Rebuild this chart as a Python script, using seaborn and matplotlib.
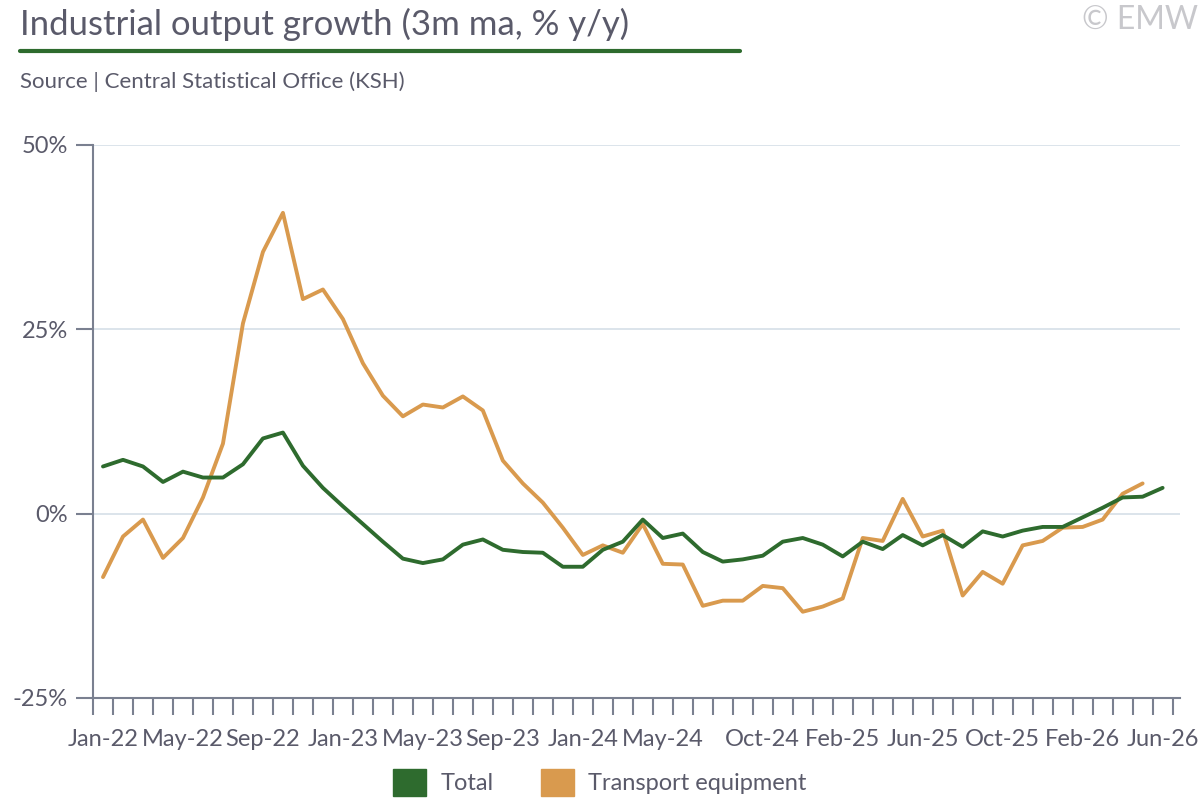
import matplotlib
matplotlib.use('Agg')
import matplotlib.pyplot as plt
import matplotlib.ticker as mticker
from matplotlib.patches import Patch
from matplotlib.lines import Line2D
import seaborn as sns
import pandas as pd

sns.set_theme(style="white")
plt.rcParams['font.family'] = ['Lato', 'DejaVu Sans']

tick_labels = ['Jan-22', 'May-22', 'Sep-22', 'Jan-23', 'May-23', 'Sep-23', 'Jan-24',
               'May-24', 'Oct-24', 'Feb-25', 'Jun-25', 'Oct-25', 'Feb-26', 'Jun-26']
tick_pos = [0, 4, 8, 12, 16, 20, 24, 28, 33, 37, 41, 45, 49, 53]

total = [6.4, 7.3, 6.4, 4.3, 5.7, 4.9, 4.9, 6.7, 10.2, 11.0, 6.5, 3.5, 1.0, -1.4,
         -3.8, -6.1, -6.7, -6.2, -4.2, -3.5, -4.9, -5.2, -5.3, -7.2, -7.2, -4.9,
         -3.8, -0.8, -3.3, -2.7, -5.2, -6.5, -6.2, -5.7, -3.8, -3.3, -4.2, -5.8,
         -3.8, -4.8, -2.9, -4.3, -2.9, -4.5, -2.4, -3.1, -2.3, -1.8, -1.8, -0.5,
         0.8, 2.2, 2.3, 3.5]
transport = [-8.6, -3.1, -0.8, -6.0, -3.3, 2.2, 9.5, 25.8, 35.5, 40.8, 29.1, 30.4,
             26.4, 20.4, 16.0, 13.2, 14.8, 14.4, 15.9, 14.0, 7.2, 4.1, 1.5, -1.9,
             -5.6, -4.3, -5.3, -1.4, -6.8, -6.9, -12.5, -11.8, -11.8, -9.8, -10.1,
             -13.3, -12.6, -11.5, -3.3, -3.7, 2.0, -3.1, -2.3, -11.1, -7.9, -9.5,
             -4.3, -3.7, -1.9, -1.8, -0.8, 2.7, 4.1]

GREEN = '#2e6b2e'
ORANGE = '#d99a4e'
GREY = '#5a5a6a'

df_t = pd.DataFrame({'m': range(len(total)), 'v': total})
df_o = pd.DataFrame({'m': range(len(transport)), 'v': transport})

fig = plt.figure(figsize=(12, 8), dpi=100)
ax = fig.add_axes([0.0775, 0.1275, 0.9055, 0.69125])
sns.lineplot(data=df_o, x='m', y='v', color=ORANGE, linewidth=2.8, ax=ax)
sns.lineplot(data=df_t, x='m', y='v', color=GREEN, linewidth=2.8, ax=ax)

ax.set_xlim(-0.5, 53.85)
ax.set_ylim(-25, 50)
ax.set_yticks([-25, 0, 25, 50])
ax.yaxis.set_major_formatter(mticker.FuncFormatter(lambda v, _: f"{int(v)}%"))
ax.grid(axis='y', color='#d5dfe8', linewidth=1.2)
ax.set_xticks(tick_pos)
ax.set_xticklabels(tick_labels)
ax.set_xticks([i + 0.5 for i in range(-1, 54)], minor=True)
ax.tick_params(axis='x', which='major', length=0, pad=22, labelsize=17, labelcolor=GREY)
ax.tick_params(axis='x', which='minor', length=12, width=1.5, color='#7a8090', bottom=True)
ax.tick_params(axis='y', length=12, width=1.5, color='#7a8090', left=True,
               labelsize=17, labelcolor=GREY, pad=6)
ax.set_xlabel('')
ax.set_ylabel('')
for s in ['top', 'right']:
    ax.spines[s].set_visible(False)
for s in ['left', 'bottom']:
    ax.spines[s].set_color('#7a8090')
    ax.spines[s].set_linewidth(1.5)

fig.text(0.017, 0.97, 'Industrial output growth (3m ma, % y/y)', fontsize=25,
         color=GREY, va='center')
fig.add_artist(Line2D([0.017, 0.617], [0.936, 0.936], color=GREEN, linewidth=3))
fig.text(0.017, 0.898, 'Source | Central Statistical Office (KSH)', fontsize=16,
         color=GREY, va='center')
fig.text(0.998, 0.975, '© EMW', fontsize=23, color='#c8c8cc', ha='right', va='center')

handles = [Patch(color=GREEN, label='Total'), Patch(color=ORANGE, label='Transport equipment')]
fig.legend(handles=handles, loc='center', bbox_to_anchor=(0.5, 0.022), ncol=2,
           frameon=False, fontsize=17, labelcolor=GREY, handlelength=1.4,
           handleheight=1.4, columnspacing=2.0, handletextpad=0.6)

fig.savefig('out.png', dpi=100, facecolor='white')
